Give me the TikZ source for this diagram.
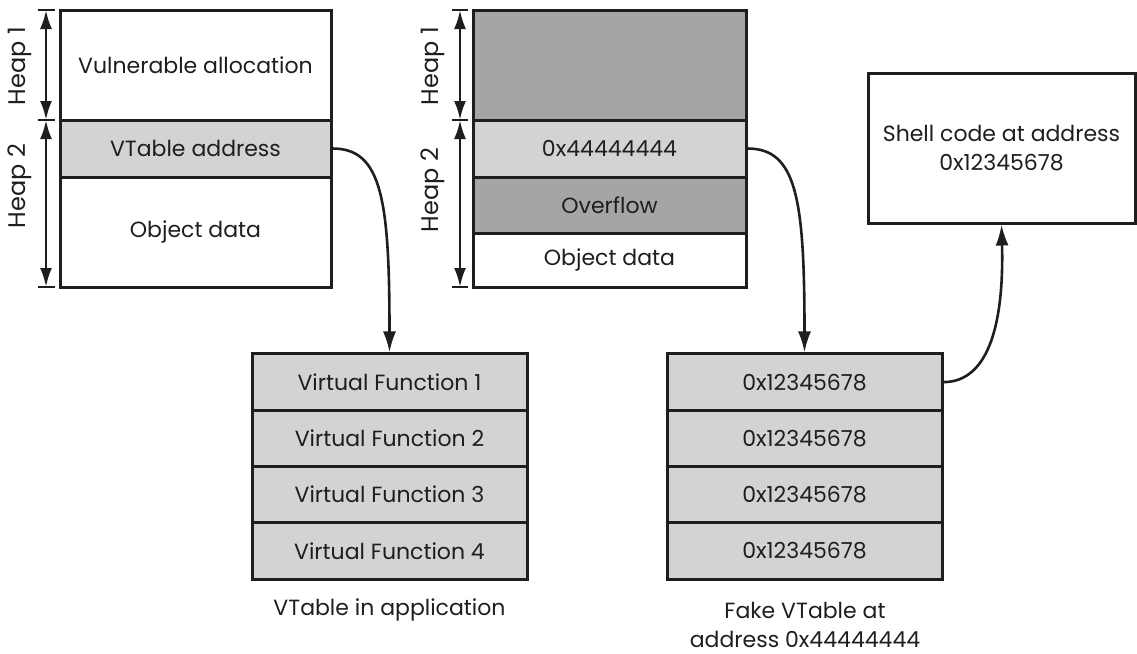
\documentclass[tikz,border=0pt]{standalone}
\usepackage{fontspec}
\setmainfont{Poppins}
\usetikzlibrary{arrows.meta}
\definecolor{darkfill}{RGB}{163,165,167}
\definecolor{lightfill}{RGB}{210,212,212}
\definecolor{ink}{RGB}{30,30,30}
\tikzset{
  cell/.style={draw=ink, line width=3pt, inner sep=0pt, font=\fontsize{22}{29}\selectfont, text=ink},
  conn/.style={draw=ink, line width=2.6pt, -{Latex[length=21pt,width=13pt]}},
  harr/.style={draw=ink, line width=2.6pt, {Latex[length=19pt,width=12pt]}-{Latex[length=19pt,width=12pt]}},
  tick/.style={draw=ink, line width=2.6pt},
  lbl/.style={font=\fontsize{22}{29}\selectfont, text=ink, inner sep=0pt},
  heaplbl/.style={font=\fontsize{24}{29}\selectfont, text=ink, inner sep=0pt, rotate=90},
}
\begin{document}
\begin{tikzpicture}[x=1pt,y=-1pt]
\useasboundingbox (0,0) rectangle (1137,653);
% left heap
\node[cell, fill=white, minimum width=271pt, minimum height=110pt] (va) at (195.5,65) {Vulnerable allocation};
\node[cell, fill=lightfill, minimum width=271pt, minimum height=57pt] (vaddr) at (195.5,148.5) {VTable address};
\node[cell, fill=white, minimum width=271pt, minimum height=110pt] (od1) at (195.5,232) {Object data};
% middle heap
\node[cell, fill=darkfill, minimum width=273pt, minimum height=110pt] (h1m) at (609.5,65) {};
\node[cell, fill=lightfill, minimum width=273pt, minimum height=57pt] (fake) at (609.5,148.5) {0x44444444};
\node[cell, fill=darkfill, minimum width=273pt, minimum height=56pt] (ovf) at (609.5,205) {Overflow};
\node[cell, fill=white, minimum width=273pt, minimum height=54pt] (od2) at (609.5,260) {Object data};
% shell code
\node[cell, fill=white, minimum width=267pt, minimum height=150pt, align=center] (shell) at (1001.5,148) {Shell code at address\\0x12345678};
% vtables
\foreach \i/\y in {1/382.1,2/438.4,3/494.6,4/550.9}{
  \node[cell, fill=lightfill, minimum width=275pt, minimum height=56.25pt] (vt\i) at (389.5,\y) {Virtual Function \i};
  \node[cell, fill=lightfill, minimum width=275pt, minimum height=56.25pt] (fv\i) at (804.5,\y) {0x12345678};
}
\node[lbl] (cap1) at (389.5,610) {VTable in application};
\node[lbl, align=center] (cap2) at (805,625) {Fake VTable at\\address 0x44444444};
% heap size markers left
\coordinate (l0) at (46,10); \coordinate (l1) at (46,120); \coordinate (l2) at (46,287);
\draw[tick] (38,10) -- (55,10) (38,120) -- (55,120) (38,287) -- (55,287);
\draw[harr] (l0) -- (l1);
\draw[harr] (l1) -- (l2);
\node[heaplbl] (lh1) at (20,66) {Heap 1};
\node[heaplbl] (lh2) at (20,186) {Heap 2};
% heap size markers middle
\coordinate (m0) at (460,10); \coordinate (m1) at (460,120); \coordinate (m2) at (460,287);
\draw[tick] (452,10) -- (468,10) (452,120) -- (468,120) (452,287) -- (468,287);
\draw[harr] (m0) -- (m1);
\draw[harr] (m1) -- (m2);
\node[heaplbl] (mh1) at (433,66) {Heap 1};
\node[heaplbl] (mh2) at (433,190) {Heap 2};
% connectors
\draw[conn] (vaddr.east) .. controls (382,148.5) and (389.5,200) .. (vt1.north);
\draw[conn] (fake.east) .. controls (797,148.5) and (804.5,200) .. (fv1.north);
\draw[conn] (fv1.east) .. controls (990,382) and (1004,320) .. (shell.south);
\end{tikzpicture}
\end{document}
